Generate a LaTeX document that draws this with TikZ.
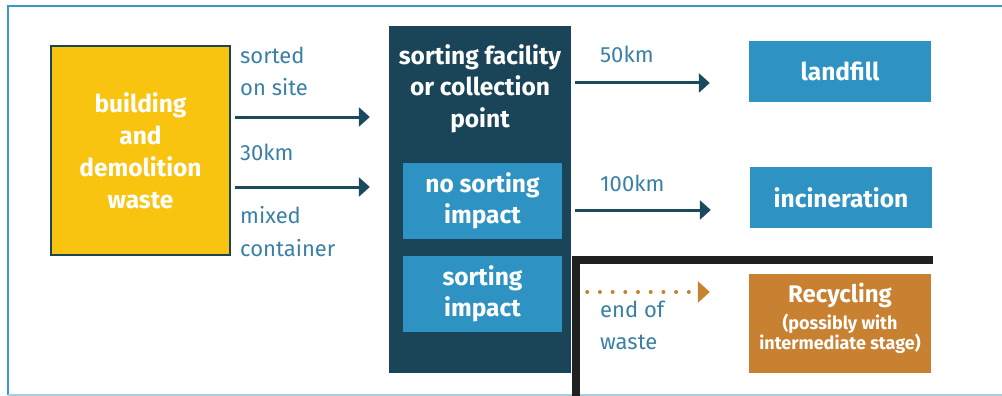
\documentclass[tikz,border=0pt]{standalone}
\usepackage{fontspec}
\setmainfont{Fira Sans}
\usetikzlibrary{arrows.meta}
\definecolor{yellowc}{HTML}{F8C40F}
\definecolor{navy}{HTML}{1A4559}
\definecolor{arrowc}{HTML}{1B4A5F}
\definecolor{bluebox}{HTML}{2E93C2}
\definecolor{orangec}{HTML}{C88031}
\definecolor{labelc}{HTML}{3A80A5}
\definecolor{framec}{HTML}{3A96CB}
\definecolor{framelight}{HTML}{A8CEDE}
\definecolor{blackc}{HTML}{1F2020}
\tikzset{
  box/.style={rectangle, inner sep=0pt, text=white, align=center,
    font=\bfseries\fontsize{24.5}{31.5}\selectfont},
  lbl/.style={inner sep=0pt, anchor=west, align=left, text=labelc,
    font=\fontsize{22}{32.5}\selectfont},
  arr/.style={draw=arrowc, line width=3pt,
    -{Triangle[length=11pt,width=19pt]}},
  dotarr/.style={draw=orangec, line width=4pt, line cap=round,
    dash pattern=on 0pt off 12.7pt,
    -{Triangle[length=12pt,width=21pt,fill=orangec,line cap=butt]}}
}
\begin{document}
\begin{tikzpicture}[x=1pt,y=-1pt]
\useasboundingbox (0,0) rectangle (1002,396);
% frame
\draw[framec, line width=2pt] (1002,6) -- (8,6) -- (8,395);
\draw[framelight, line width=1.5pt] (8,395) -- (1002,395);
% source
\node[box, fill=yellowc, draw=navy, line width=2pt, minimum width=179pt,
  minimum height=209pt, font=\bfseries\fontsize{24.5}{32}\selectfont]
  (src) at (140.5,150.5) {building\\and\\demolition\\waste};
% facility
\node[rectangle, fill=navy, inner sep=0pt, minimum width=182pt,
  minimum height=347pt] (fac) at (480,199.5) {};
\node[box] (factitle) at (480,88.5) {sorting facility\\or collection\\point};
\node[box, fill=bluebox, minimum width=159pt, minimum height=76pt]
  (nosort) at (482.5,201) {no sorting\\impact};
\node[box, fill=bluebox, minimum width=159pt, minimum height=76pt]
  (sort) at (482.5,294) {sorting\\impact};
% destinations
\node[box, fill=bluebox, minimum width=182pt, minimum height=61pt]
  (land) at (840,71.5) {landfill};
\node[box, fill=bluebox, minimum width=182pt, minimum height=61pt]
  (inc) at (841,197.5) {incineration};
\node[rectangle, fill=orangec, inner sep=0pt, minimum width=182pt,
  minimum height=99pt] (rec) at (840,323.5) {};
\node[box, font=\bfseries\fontsize{18}{19}\selectfont]
  (rectext) at (840,318.5)
  {{\fontsize{24}{24}\selectfont Recycling}\\[5pt](possibly with\\intermediate stage)};
% L-shaped black line
\draw[blackc, line width=8pt] (575.5,396) -- (575.5,260) -- (933,260);
% connectors
\coordinate (r1) at (0,117);
\coordinate (r2) at (0,187);
\coordinate (r3) at (0,83);
\coordinate (r4) at (0,210);
\coordinate (r5) at (0,292);
\draw[arr, shorten <=4pt, shorten >=19pt] (src.east |- r1) -- (fac.west |- r1);
\draw[arr, shorten <=4pt, shorten >=19pt] (src.east |- r2) -- (fac.west |- r2);
\draw[arr, shorten <=4pt, shorten >=39pt] (fac.east |- r3) -- (land.west |- r3);
\draw[arr, shorten <=4pt, shorten >=39pt] (fac.east |- r4) -- (inc.west |- r4);
\draw[dotarr, shorten <=16pt, shorten >=39pt] (fac.east |- r5) -- (rec.west |- r5);
% labels
\node[lbl] (l1) at (240,71.5) {sorted\\on site};
\node[lbl] (l2) at (240,152.5) {30km};
\node[lbl] (l3) at (240,231.5) {mixed\\container};
\node[lbl] (l4) at (600,54.5) {50km};
\node[lbl] (l5) at (600,183.5) {100km};
\node[lbl] (l6) at (600,325.5) {end of\\waste};
\end{tikzpicture}
\end{document}
